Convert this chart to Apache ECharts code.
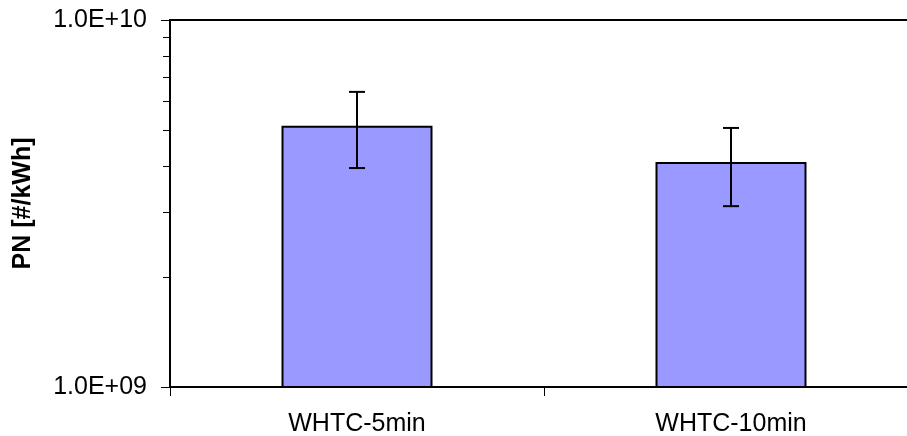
<!DOCTYPE html>
<html>
<head>
<meta charset="utf-8">
<script src="https://cdn.jsdelivr.net/npm/echarts@6/dist/echarts.min.js"></script>
<style>
  html, body { margin: 0; padding: 0; background: #fff; }
  #chart { width: 907px; height: 436px; }
</style>
</head>
<body>
<div id="chart"></div>
<script>
// Particle number emissions per test cycle (log scale)
const categories = ['WHTC-5min', 'WHTC-10min'];
const pnMean = [5.15e9, 4.1e9];
const pnErrLow = [3.95e9, 3.11e9];
const pnErrHigh = [6.37e9, 5.08e9];
const yMin = 1e9;
const yMax = 1e10;
const minorTickValues = [2e9, 3e9, 4e9, 5e9, 6e9, 7e9, 8e9, 9e9];

const FONT = "'Liberation Sans', Arial, sans-serif";

function sciLabel(v) {
  const exp = Math.round(Math.log10(v));
  const mant = v / Math.pow(10, exp);
  const e = (exp < 10 && exp >= 0) ? '0' + exp : String(exp);
  return mant.toFixed(1) + 'E+' + e;
}

const chart = echarts.init(document.getElementById('chart'), null, { renderer: 'canvas' });

const errorData = categories.map((c, i) => [i, pnErrLow[i], pnErrHigh[i]]);
const minorData = minorTickValues.map(v => [0, v]);

chart.setOption({
  animation: false,
  backgroundColor: '#fff',
  grid: {
    left: 170, top: 20, width: 748, height: 367,
    outerBoundsMode: 'none',
    containLabel: false,
    show: true, borderColor: '#000', borderWidth: 2, backgroundColor: 'transparent'
  },
  xAxis: {
    type: 'category',
    data: categories,
    axisLine: { lineStyle: { color: '#000', width: 2 } },
    axisTick: { show: true, length: 9, lineStyle: { color: '#000', width: 1 } },
    axisLabel: { color: '#000', fontSize: 25, fontFamily: FONT, margin: 25 },
    splitLine: { show: false }
  },
  yAxis: {
    type: 'log',
    logBase: 10,
    min: yMin,
    max: yMax,
    name: 'PN [#/kWh]',
    nameLocation: 'middle',
    nameGap: 134,
    nameRotate: 90,
    nameTextStyle: { color: '#000', fontSize: 25, fontWeight: 'bold', fontFamily: FONT },
    axisLine: { show: true, lineStyle: { color: '#000', width: 2 } },
    axisTick: { show: true, length: 9, lineStyle: { color: '#000', width: 1 } },
    axisLabel: { color: '#000', fontSize: 25, fontFamily: FONT, margin: 23, formatter: sciLabel },
    splitLine: { show: false }
  },
  series: [
    {
      type: 'bar',
      data: pnMean,
      barWidth: 151,
      clip: true,
      itemStyle: { color: '#9999FF', borderColor: '#000', borderWidth: 2 },
      z: 2
    },
    {
      // error bars with caps
      type: 'custom',
      data: errorData,
      z: 5,
      renderItem: function (params, api) {
        const idx = api.value(0);
        const lo = api.coord([idx, api.value(1)]);
        const hi = api.coord([idx, api.value(2)]);
        const half = 8;
        const style = { stroke: '#000', lineWidth: 2 };
        return {
          type: 'group',
          children: [
            { type: 'line', shape: { x1: lo[0], y1: lo[1], x2: hi[0], y2: hi[1] }, style: style },
            { type: 'line', shape: { x1: lo[0] - half, y1: lo[1], x2: lo[0] + half, y2: lo[1] }, style: style },
            { type: 'line', shape: { x1: hi[0] - half, y1: hi[1], x2: hi[0] + half, y2: hi[1] }, style: style }
          ]
        };
      }
    },
    {
      // minor ticks on the log value axis
      type: 'custom',
      data: minorData,
      z: 5,
      silent: true,
      clip: false,
      renderItem: function (params, api) {
        const p = api.coord([api.value(0), api.value(1)]);
        const x0 = params.coordSys.x;
        return {
          type: 'line',
          shape: { x1: x0 - 7, y1: Math.round(p[1]) + 0.5, x2: x0, y2: Math.round(p[1]) + 0.5 },
          style: { stroke: '#000', lineWidth: 1 }
        };
      }
    }
  ]
});
</script>
</body>
</html>
